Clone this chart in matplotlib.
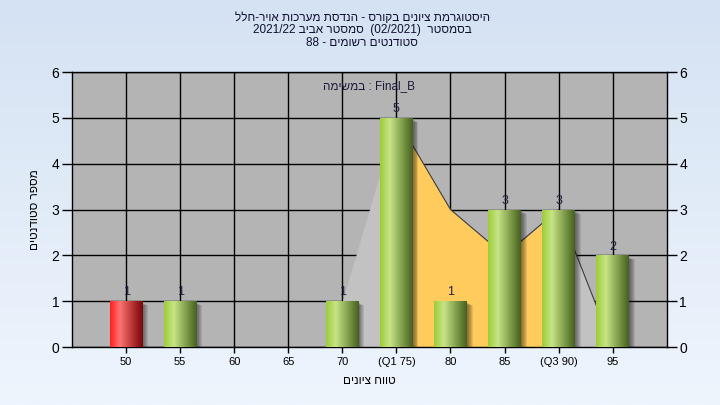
import numpy as np
import matplotlib
matplotlib.use("Agg")
import matplotlib.pyplot as plt
from matplotlib.patches import Rectangle

plt.rcParams['font.family'] = ['Liberation Sans', 'DejaVu Sans']

# ---- data ----
categories = [50, 55, 60, 65, 70, 75, 80, 85, 90, 95]
tick_labels = ['50', '55', '60', '65', '70', '(Q1 75)', '80', '85', '(Q3 90)', '95']
counts = [1, 1, 0, 0, 1, 5, 1, 3, 3, 2]
curve = [np.nan, np.nan, np.nan, np.nan, 1, 5, 3, 2, 3, 0]
failing = [True, False, False, False, False, False, False, False, False, False]
q1_index = 5
q3_index = 8


def rtl(s):
    """Visual (left-to-right glyph) order of a pure Hebrew run."""
    return s[::-1]


# Hebrew texts, composed into visual order for left-to-right rendering
title_lines = [
    rtl('היסטוגרמת ציונים בקורס - הנדסת מערכות אויר-חלל'),
    '2021/22 ' + rtl('סמסטר אביב') + '  (02/2021)  ' + rtl('בסמסטר'),
    '88 - ' + rtl('סטודנטים רשומים'),
]
task_label = rtl('במשימה') + ' : Final_B'
x_label = rtl('טווח ציונים')
y_label = rtl('מספר סטודנטים')

# ---- figure ----
fig = plt.figure(figsize=(7.2, 4.05), dpi=100)

bgax = fig.add_axes([0, 0, 1, 1], zorder=-10)
top = np.array([213, 226, 243]) / 255
bot = np.array([238, 245, 253]) / 255
t = np.linspace(0, 1, 256)[:, None]
bg = top[None, :] * (1 - t) + bot[None, :] * t
bgax.imshow(bg[:, None, :], aspect='auto', extent=[0, 1, 0, 1])
bgax.axis('off')

ax = fig.add_axes([0.1, 0.1432, 0.826, 0.679])
ax.set_facecolor('#b4b4b4')

x = np.arange(len(categories))
curve_arr = np.array(curve, dtype=float)

# grid
ax.set_axisbelow(True)
ax.grid(True, color='black', linewidth=1.0, zorder=0.5)

# area behind bars
ax.fill_between(x, 0, curve_arr, color='#c2c2c2', linewidth=0, zorder=1)
mask = (x >= q1_index) & (x <= q3_index)
ax.fill_between(x, 0, np.where(mask, curve_arr, np.nan), color='#ffcb5c',
                linewidth=0, zorder=1.1)
ax.plot(x[q1_index:], curve_arr[q1_index:], color='#3c3c3c', linewidth=0.8,
        zorder=1.2)

# bars
width = 0.6
bars = ax.bar(x, counts, width=width, color='none', edgecolor='none', zorder=3)


def gradient(stops, cols):
    s = np.linspace(0, 1, 200)
    cols = np.array(cols) / 255
    img = np.stack([np.interp(s, stops, cols[:, c]) for c in range(3)], axis=-1)
    return img[None, :, :]


green = gradient([0, 0.3, 0.85, 1.0],
                 [(155, 205, 55), (200, 228, 135), (95, 125, 48), (70, 95, 35)])
red = gradient([0, 0.3, 0.85, 1.0],
               [(255, 30, 30), (255, 115, 115), (150, 25, 25), (115, 10, 10)])

for bar, cnt, fail in zip(bars, counts, failing):
    if cnt <= 0:
        continue
    bx, bw, bh = bar.get_x(), bar.get_width(), bar.get_height()
    # shadow
    for k in range(6):
        dx = 0.018 * (k + 1)
        ax.add_patch(Rectangle((bx + dx, 0), bw, bh - 0.04 - 0.01 * k,
                               facecolor='black', alpha=0.09, linewidth=0,
                               zorder=2))
    im = ax.imshow(red if fail else green, extent=(bx, bx + bw, 0, bh),
                   aspect='auto', interpolation='bilinear', zorder=3)
    im.set_clip_path(bar)
    ax.text(bar.get_x() + bw / 2, bh + 0.06, str(cnt), ha='center',
            va='bottom', fontsize=9, color='#202040', zorder=4)

ax.set_xlim(-1, len(categories))
ax.set_ylim(0, 6)
ax.set_xticks(x)
ax.set_xticklabels(tick_labels, fontsize=8)
ax.set_yticks(range(0, 7))
ax.tick_params(axis='y', labelsize=10, length=7, width=1, right=True,
               labelright=True, direction='out', pad=2)
ax.tick_params(axis='x', length=4, width=1, direction='out', pad=3)
for s in ax.spines.values():
    s.set_color('black')
    s.set_linewidth(1)

ax.set_xlabel(x_label, fontsize=8.5, labelpad=6)
ax.set_ylabel(y_label, fontsize=8.5, rotation=90, va='center')
ax.yaxis.set_label_coords(-0.062, 0.5)

ax.text(0.5, 0.949, task_label, transform=ax.transAxes, ha='center',
        va='center', fontsize=8.5, color='#1a1a3a', zorder=5)

for i, line in enumerate(title_lines):
    fig.text(0.503, 1 - (18 + 12.5 * i) / 405, line, ha='center',
             va='center', fontsize=8.5, color='#101030')

fig.savefig('out.png', dpi=100)
